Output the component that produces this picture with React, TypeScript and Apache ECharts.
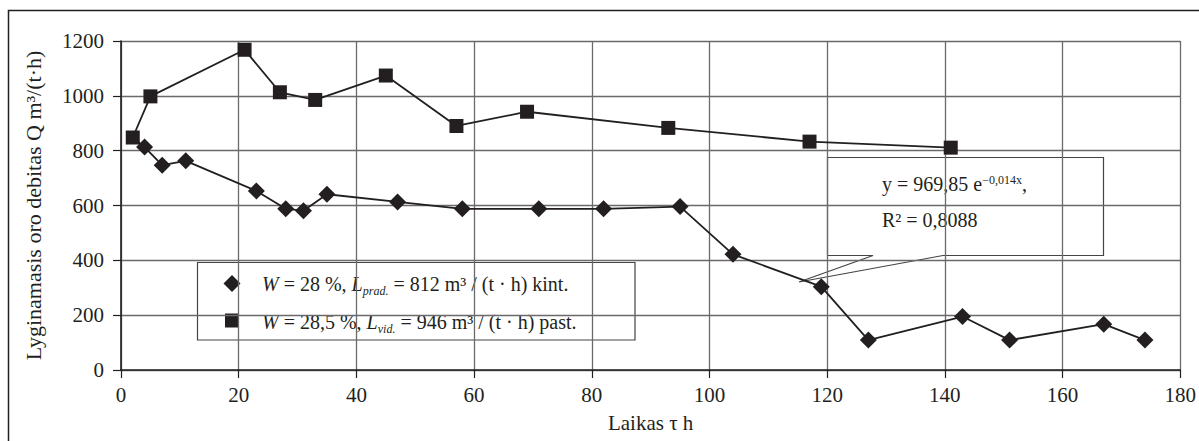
import React, { useEffect, useRef } from 'react';
import * as echarts from 'echarts';

// ---- data ----
const diamondX = [2, 4, 7, 11, 23, 28, 31, 35, 47, 58, 71, 82, 95, 104, 119, 127, 143, 151, 167, 174];
const diamondY = [848, 813, 747, 763, 653, 588, 581, 641, 613, 588, 588, 588, 596, 422, 304, 109, 195, 109, 167, 109];
const squareX = [2, 5, 21, 27, 33, 45, 57, 69, 93, 117, 141];
const squareY = [848, 998, 1168, 1013, 985, 1074, 890, 942, 883, 833, 811];

const xMin = 0;
const xMax = 180;
const xStep = 20;
const yMin = 0;
const yMax = 1200;
const yStep = 200;

const seriesNames = [
  'W = 28 %, Lprad. = 812 m³ / (t · h) kint.',
  'W = 28,5 %, Lvid. = 946 m³ / (t · h) past.',
];
const legendRich = [
  '{i|W} = 28 %, {i|L}{sub|prad.} = 812 m³ / (t · h) kint.',
  '{i|W} = 28,5 %, {i|L}{sub|vid.} = 946 m³ / (t · h) past.',
];
const yAxisTitle = 'Lyginamasis oro debitas Q m³/(t·h)';
const xAxisTitle = 'Laikas τ h';
const trendLine1 = 'y = 969,85 e{sup|−0,014x},';
const trendLine2 = 'R² = 0,8088';

const INK = '#231f20';
const GRID = '#6a6a6a';
const FONT = 'Liberation Serif';
const FS = 20;
const TICK_FS = 21;

const richStyles = {
  n: { fontFamily: FONT, fontSize: FS, fill: INK, lineHeight: 26 },
  i: { fontFamily: FONT, fontSize: FS, fontStyle: 'italic', fill: INK, lineHeight: 26 },
  sub: { fontFamily: FONT, fontSize: 12, fontStyle: 'italic', fill: INK, lineHeight: 10, verticalAlign: 'bottom' },
  sup: { fontFamily: FONT, fontSize: 12, fill: INK, lineHeight: 12, verticalAlign: 'top' },
};

export default function App() {
  const ref = useRef<HTMLDivElement>(null);

  useEffect(() => {
    if (!ref.current) return;
    const chart = echarts.init(ref.current, undefined, { renderer: 'svg' });

    const diamondData = diamondX.map((x, i) =>
      i === 0 ? { value: [x, diamondY[i]], symbolSize: 0 } : { value: [x, diamondY[i]] }
    );
    const squareData = squareX.map((x, i) => [x, squareY[i]]);

    const option: any = {
      animation: false,
      backgroundColor: '#ffffff',
      grid: { left: 121, right: 18, top: 41, bottom: 71, containLabel: false },
      xAxis: {
        type: 'value',
        min: xMin,
        max: xMax,
        interval: xStep,
        name: xAxisTitle,
        nameLocation: 'middle',
        nameGap: 42,
        nameTextStyle: { fontFamily: FONT, fontSize: 21, color: INK },
        axisLine: { show: true, onZero: false, lineStyle: { color: INK, width: 1.6 } },
        axisTick: { show: true, length: 8, lineStyle: { color: INK, width: 1.2 } },
        axisLabel: { margin: 14, fontFamily: FONT, fontSize: TICK_FS, color: INK },
        splitLine: { show: true, lineStyle: { color: GRID, width: 1.3 } },
      },
      yAxis: {
        type: 'value',
        min: yMin,
        max: yMax,
        interval: yStep,
        name: yAxisTitle,
        nameLocation: 'middle',
        nameGap: 77,
        nameTextStyle: { fontFamily: FONT, fontSize: 22, color: INK },
        axisLine: { show: true, lineStyle: { color: INK, width: 1.6 } },
        axisTick: { show: true, length: 8, lineStyle: { color: INK, width: 1.2 } },
        axisLabel: {
          margin: 17,
          fontFamily: FONT,
          fontSize: TICK_FS,
          color: INK,
          formatter: (v: number) => String(v),
        },
        splitLine: { show: true, lineStyle: { color: GRID, width: 1.3 } },
      },
      series: [
        {
          name: seriesNames[0],
          type: 'line',
          data: diamondData,
          symbol: 'diamond',
          symbolSize: 17,
          showAllSymbol: true,
          itemStyle: { color: INK },
          lineStyle: { color: INK, width: 1.8 },
          z: 3,
        },
        {
          name: seriesNames[1],
          type: 'line',
          data: squareData,
          symbol: 'rect',
          symbolSize: 14,
          showAllSymbol: true,
          itemStyle: { color: INK },
          lineStyle: { color: INK, width: 1.8 },
          z: 4,
        },
      ],
      graphic: [
        {
          type: 'rect',
          z: 1,
          silent: true,
          shape: { x: 8.5, y: 10.5, width: 1200, height: 440 },
          style: { fill: 'none', stroke: INK, lineWidth: 1.5 },
        },
        // legend box
        {
          type: 'group',
          z: 100,
          children: [
            {
              type: 'rect',
              shape: { x: 197.5, y: 262.5, width: 437.5, height: 77.5 },
              style: { fill: '#ffffff', stroke: '#444444', lineWidth: 1.2 },
            },
            {
              type: 'polygon',
              shape: { points: [[232, 275], [240.5, 283.5], [232, 292], [223.5, 283.5]] },
              style: { fill: INK },
            },
            {
              type: 'rect',
              shape: { x: 225, y: 313.5, width: 14, height: 14 },
              style: { fill: INK },
            },
            {
              type: 'text',
              x: 262,
              y: 284,
              style: {
                text: legendRich[0],
                fontFamily: FONT,
                fontSize: FS,
                fill: INK,
                verticalAlign: 'middle',
                rich: richStyles,
              },
            },
            {
              type: 'text',
              x: 262,
              y: 322,
              style: {
                text: legendRich[1],
                fontFamily: FONT,
                fontSize: FS,
                fill: INK,
                verticalAlign: 'middle',
                rich: richStyles,
              },
            },
          ],
        },
        // trend-line callout
        {
          type: 'group',
          z: 100,
          children: [
            {
              type: 'polygon',
              shape: {
                points: [
                  [827.5, 157.5], [1103.5, 157.5], [1103.5, 255.5], [943, 255.5],
                  [799, 282], [873, 255.5], [827.5, 255.5],
                ],
              },
              style: { fill: '#ffffff', stroke: '#444444', lineWidth: 1.2 },
            },
            {
              type: 'text',
              x: 882,
              y: 184,
              style: {
                text: trendLine1,
                fontFamily: FONT,
                fontSize: FS,
                fill: INK,
                verticalAlign: 'middle',
                rich: richStyles,
              },
            },
            {
              type: 'text',
              x: 882,
              y: 220,
              style: {
                text: trendLine2,
                fontFamily: FONT,
                fontSize: FS,
                fill: INK,
                verticalAlign: 'middle',
              },
            },
          ],
        },
      ],
    };

    chart.setOption(option);
    return () => chart.dispose();
  }, []);

  return (
    <div style={{ position: 'fixed', left: 0, top: 0, width: 1199, height: 441, background: '#fff' }}>
      <div ref={ref} style={{ width: 1199, height: 441 }} />
    </div>
  );
}
